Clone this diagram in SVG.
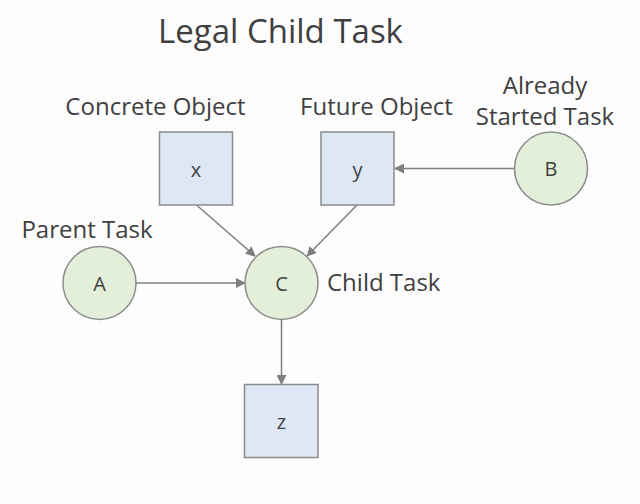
<svg xmlns="http://www.w3.org/2000/svg" width="640" height="504" viewBox="0 0 640 504">
<defs>
<marker id="ah" viewBox="0 0 10 10" refX="9" refY="5" markerWidth="10" markerHeight="10" markerUnits="userSpaceOnUse" orient="auto">
<path d="M0,0 L10,5 L0,10 z" fill="#7f7f7f"/>
</marker>
</defs>
<style>
.box{fill:#dee8f5;stroke:#8c8c8c;stroke-width:1.5}
.circ{fill:#e3efd9;stroke:#8c8c8c;stroke-width:1.5}
.t{font-family:"Open Sans","Liberation Sans",sans-serif;fill:#404040}
.lbl{font-size:24px}
.nl{font-size:20px;text-anchor:middle}
.edge{stroke:#7f7f7f;stroke-width:1.5;fill:none;marker-end:url(#ah)}
</style>
<rect width="640" height="504" fill="#fdfdfd"/>
<text class="t" x="280.5" y="43" font-size="33" text-anchor="middle">Legal Child Task</text>
<g id="connectors">
<line class="edge" x1="136" y1="283" x2="245" y2="283"/>
<line class="edge" x1="514" y1="168.5" x2="395" y2="168.5"/>
<line class="edge" x1="196.5" y1="205" x2="255" y2="256"/>
<line class="edge" x1="357" y1="205" x2="307" y2="256"/>
<line class="edge" x1="281.5" y1="320" x2="281.5" y2="384"/>
</g>
<g id="node-x">
<rect class="box" x="159.5" y="132" width="73" height="73"/>
<text class="t nl" x="196" y="177">x</text>
<text class="t lbl" x="155.5" y="115" text-anchor="middle">Concrete Object</text>
</g>
<g id="node-y">
<rect class="box" x="321" y="132" width="73" height="73"/>
<text class="t nl" x="357.5" y="177">y</text>
<text class="t lbl" x="376.5" y="115" text-anchor="middle">Future Object</text>
</g>
<g id="node-A">
<circle class="circ" cx="99.5" cy="283" r="36.5"/>
<text class="t nl" x="99.5" y="290.5">A</text>
<text class="t lbl" x="87" y="238" text-anchor="middle">Parent Task</text>
</g>
<g id="node-C">
<circle class="circ" cx="281.5" cy="283" r="36.5"/>
<text class="t nl" x="281.5" y="290.5">C</text>
<text class="t lbl" x="327" y="291">Child Task</text>
</g>
<g id="node-B">
<circle class="circ" cx="551" cy="168.5" r="36.5"/>
<text class="t nl" x="551" y="176">B</text>
<text class="t lbl" x="545" y="94" text-anchor="middle">Already</text>
<text class="t lbl" x="545" y="125" text-anchor="middle">Started Task</text>
</g>
<g id="node-z">
<rect class="box" x="244.5" y="384.5" width="73.5" height="73"/>
<text class="t nl" x="281.5" y="429">z</text>
</g>
</svg>
